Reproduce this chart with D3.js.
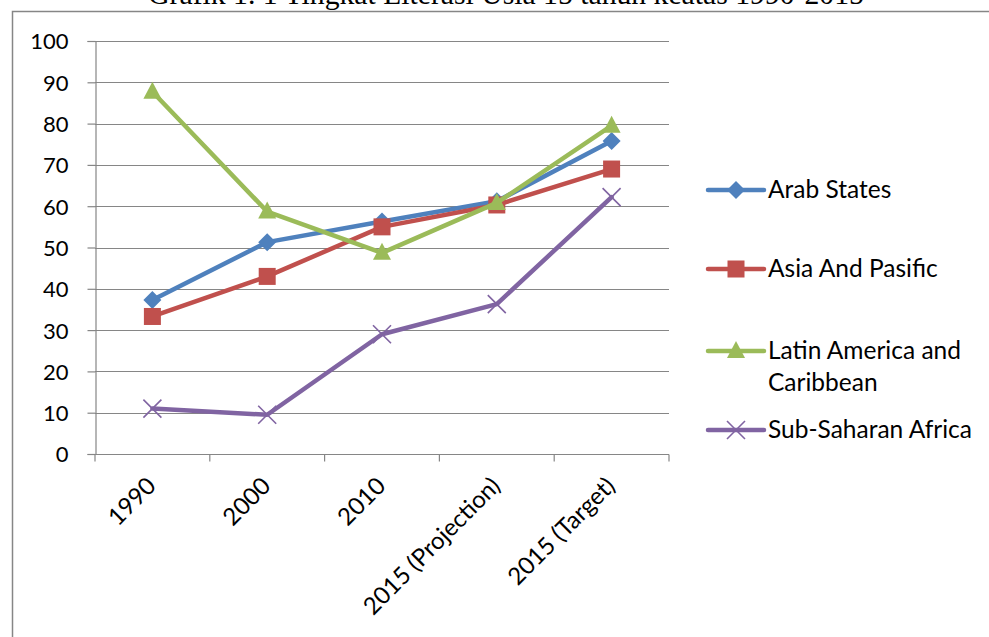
<!DOCTYPE html>
<html>
<head>
<meta charset="utf-8">
<script src="https://cdn.jsdelivr.net/npm/d3@7"></script>
<style>
    body { margin: 0; background: #fff; }
    svg { display: block; }
    .tick-label { font-family: Lato, 'Open Sans', sans-serif; font-size: 22px; fill: #000; }
    .cat-label { font-family: Lato, 'Open Sans', sans-serif; font-size: 24px; fill: #000; }
    .legend-label { font-family: Lato, 'Open Sans', sans-serif; font-size: 24.5px; fill: #000; }
</style>
</head>
<body>
<svg width="989" height="637"></svg>
<script>
var titleText = 'Grafik 1. 1 Tingkat Literasi Usia 15 tahun keatas 1990-2015',
    categories = [ '1990', '2000', '2010', '2015 (Projection)', '2015 (Target)' ],
    yTicks = [ 0, 10, 20, 30, 40, 50, 60, 70, 80, 90, 100 ],
    seriesNames = [ 'Arab States', 'Asia And Pasific', 'Latin America and Caribbean', 'Sub-Saharan Africa' ],
    arabStates = [ 37.3, 51.3, 56.3, 61.2, 75.8 ],
    asiaPacific = [ 33.3, 43, 55, 60.3, 69 ],
    latinAmerica = [ 87.7, 58.7, 48.7, 60.8, 79.5 ],
    subSaharan = [ 11, 9.5, 29, 36.3, 62.2 ];

var series = [
        { name : seriesNames[ 0 ], values : arabStates,   color : '#4F81BD', marker : 'diamond' },
        { name : seriesNames[ 1 ], values : asiaPacific,  color : '#C0504D', marker : 'square' },
        { name : seriesNames[ 2 ], values : latinAmerica, color : '#9BBB59', marker : 'triangle' },
        { name : seriesNames[ 3 ], values : subSaharan,   color : '#8064A2', marker : 'cross' }
    ];

var svg = d3.select( 'svg' ),
    plot = { left : 95, right : 669, top : 41, bottom : 454 },
    grey = '#868686',

    x = d3.scaleBand().domain( categories ).range( [ plot.left, plot.right ] ).padding( 0 ),
    y = d3.scaleLinear().domain( [ 0, 100 ] ).range( [ plot.bottom, plot.top ] );

function cx( i ) {
    return x( categories[ i ] ) + x.bandwidth() / 2;
}

// title, mostly cut off at the top like in the original
svg.append( 'text' )
    .attr( 'x', 506 )
    .attr( 'y', 4 )
    .attr( 'text-anchor', 'middle' )
    .style( 'font-family', "'Liberation Serif', 'Times New Roman', serif" )
    .style( 'font-size', '29.7px' )
    .text( titleText );

// chart frame (left and top edges are visible)
svg.append( 'path' )
    .attr( 'd', 'M12.5,640V11.5H995' )
    .attr( 'fill', 'none' )
    .attr( 'stroke', grey )
    .attr( 'stroke-width', 1.5 );

// gridlines
svg.append( 'g' )
    .selectAll( 'line' )
    .data( yTicks.filter( function ( d ) { return d > 0; } ) )
    .enter().append( 'line' )
    .attr( 'x1', plot.left )
    .attr( 'x2', plot.right )
    .attr( 'y1', function ( d ) { return Math.round( y( d ) ) + 0.5; } )
    .attr( 'y2', function ( d ) { return Math.round( y( d ) ) + 0.5; } )
    .attr( 'stroke', grey )
    .attr( 'stroke-width', 1.2 );

// y axis
var yAxis = svg.append( 'g' )
    .attr( 'transform', 'translate(' + ( plot.left + 0.5 ) + ',0)' )
    .call( d3.axisLeft( y ).tickValues( yTicks ).tickSize( 8 ).tickPadding( 19 ) );

yAxis.select( '.domain' ).attr( 'stroke', grey ).attr( 'stroke-width', 1.2 );
yAxis.selectAll( '.tick line' ).attr( 'stroke', grey ).attr( 'stroke-width', 1.2 );
yAxis.selectAll( '.tick text' )
    .attr( 'class', 'tick-label' )
    .attr( 'dy', '0.36em' );

// x axis
var xAxis = svg.append( 'g' )
    .attr( 'transform', 'translate(0,' + ( plot.bottom + 0.5 ) + ')' );

xAxis.append( 'line' )
    .attr( 'x1', plot.left )
    .attr( 'x2', plot.right )
    .attr( 'stroke', grey )
    .attr( 'stroke-width', 1.2 );

xAxis.selectAll( '.xtick' )
    .data( categories.concat( [ null ] ) )
    .enter().append( 'line' )
    .attr( 'x1', function ( d ) { return d === null ? plot.right : x( d ); } )
    .attr( 'x2', function ( d ) { return d === null ? plot.right : x( d ); } )
    .attr( 'y1', 0 )
    .attr( 'y2', 7 )
    .attr( 'stroke', grey )
    .attr( 'stroke-width', 1.2 );

xAxis.selectAll( '.xlabel' )
    .data( categories )
    .enter().append( 'text' )
    .attr( 'class', 'cat-label' )
    .attr( 'text-anchor', 'end' )
    .attr( 'transform', function ( d, i ) {
        return 'translate(' + ( cx( i ) + 5 ) + ',33) rotate(-45)';
    } )
    .text( function ( d ) { return d; } );

function drawMarker( g, type, color ) {
    if ( type === 'diamond' ) {
        g.append( 'path' ).attr( 'd', 'M0,-9L9,0L0,9L-9,0Z' ).attr( 'fill', color );
    } else if ( type === 'square' ) {
        g.append( 'rect' ).attr( 'x', -8.5 ).attr( 'y', -8.5 ).attr( 'width', 17 ).attr( 'height', 17 ).attr( 'fill', color );
    } else if ( type === 'triangle' ) {
        g.append( 'path' ).attr( 'd', 'M0,-10L9,7L-9,7Z' ).attr( 'fill', color );
    } else {
        g.append( 'path' ).attr( 'd', 'M-9,-9L9,9M-9,9L9,-9' ).attr( 'stroke', color ).attr( 'stroke-width', 1.6 );
    }
}

var line = d3.line()
    .x( function ( d, i ) { return cx( i ); } )
    .y( function ( d ) { return y( d ); } );

series.forEach( function ( s ) {
    var g = svg.append( 'g' );

    g.append( 'path' )
        .datum( s.values )
        .attr( 'd', line )
        .attr( 'fill', 'none' )
        .attr( 'stroke', s.color )
        .attr( 'stroke-width', 4.5 )
        .attr( 'stroke-linejoin', 'round' )
        .attr( 'stroke-linecap', 'round' );

    s.values.forEach( function ( v, i ) {
        drawMarker(
            g.append( 'g' ).attr( 'transform', 'translate(' + cx( i ) + ',' + y( v ) + ')' ),
            s.marker,
            s.color
        );
    } );
} );

// legend
var legendRows = [ 190, 269, 351, 430 ],
    legend = svg.append( 'g' );

series.forEach( function ( s, i ) {
    var row = legend.append( 'g' ).attr( 'transform', 'translate(0,' + legendRows[ i ] + ')' ),
        words = s.name === 'Latin America and Caribbean' ? [ 'Latin America and', 'Caribbean' ] : [ s.name ];

    row.append( 'line' )
        .attr( 'x1', 708 )
        .attr( 'x2', 764 )
        .attr( 'stroke', s.color )
        .attr( 'stroke-width', 4.5 )
        .attr( 'stroke-linecap', 'round' );

    drawMarker( row.append( 'g' ).attr( 'transform', 'translate(736,0)' ), s.marker, s.color );

    words.forEach( function ( w, j ) {
        row.append( 'text' )
            .attr( 'class', 'legend-label' )
            .attr( 'x', 768 )
            .attr( 'y', 8 + j * 32 )
            .text( w );
    } );
} );
</script>
</body>
</html>
